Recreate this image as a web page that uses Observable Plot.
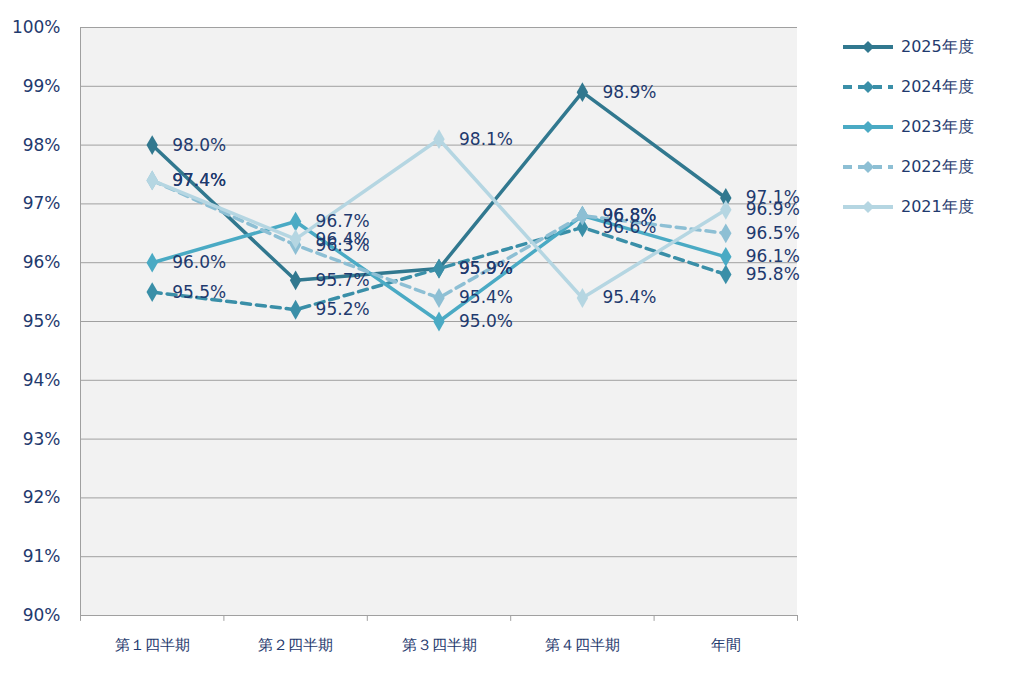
<!DOCTYPE html>
<html><head><meta charset="utf-8">
<script src="https://cdn.jsdelivr.net/npm/d3@7"></script>
<script src="https://cdn.jsdelivr.net/npm/@observablehq/plot@0.6"></script>
<style>
body{margin:0;background:#fff;font-family:"DejaVu Sans",Verdana,sans-serif;}
#wrap{position:relative;width:1024px;height:681px;}
#legend{position:absolute;left:843px;top:27px;}
.li{display:flex;align-items:center;height:40px;font-size:16px;color:#1f3a6e;}
</style></head><body>
<div id="wrap"><div id="chart"></div><div id="legend"></div></div>
<script>
const categories = ["第１四半期","第２四半期","第３四半期","第４四半期","年間"];
const years = ["2025年度","2024年度","2023年度","2022年度","2021年度"];
const v2025 = [98.0,95.7,95.9,98.9,97.1];
const v2024 = [95.5,95.2,95.9,96.6,95.8];
const v2023 = [96.0,96.7,95.0,96.8,96.1];
const v2022 = [97.4,96.3,95.4,96.8,96.5];
const v2021 = [97.4,96.4,98.1,95.4,96.9];
const yTicks = [90,91,92,93,94,95,96,97,98,99,100];
const colors = ["#31788f","#3a8fa8","#4aaac4","#8dbfd4","#b5d6e2"];
const dashed = [false,true,false,true,false];
const series = [v2025,v2024,v2023,v2022,v2021];
const data = series.flatMap((vals,s)=>vals.map((v,i)=>({year:years[s],s,i:i+0.5,cat:categories[i],v})));
const navy = "#1f3a6e";
const marks = [
  Plot.rect([0],{x1:0,x2:5,y1:90,y2:100,fill:"#f2f2f2"}),
  Plot.ruleY(yTicks,{stroke:"#a0a0a0"}),
  Plot.ruleX([0],{y1:90,y2:100,stroke:"#a0a0a0"}),
  Plot.ruleX([0,1,2,3,4,5],{y1:90,y2:89.9,stroke:"#a0a0a0"}),
];
series.forEach((vals,s)=>{
  const d = data.filter(r=>r.s===s);
  marks.push(Plot.line(d,{x:"i",y:"v",stroke:colors[s],strokeWidth:3.5,strokeDasharray:dashed[s]?"9,6":null}));
  marks.push(Plot.dot(d,{x:"i",y:"v",symbol:"diamond",fill:colors[s],r:6}));
});
series.forEach((vals,s)=>{
  const d = data.filter(r=>r.s===s);
  marks.push(Plot.text(d,{x:"i",y:"v",text:r=>r.v.toFixed(1)+"%",dx:20,textAnchor:"start",fill:navy,fontSize:17}));
});
marks.push(Plot.text(categories,{x:(d,i)=>i+0.5,y:()=>90,text:d=>d,dy:30,fill:navy,fontSize:15}));
const chart = Plot.plot({
  width:1024,height:681,
  marginLeft:80,marginRight:227,marginTop:27,marginBottom:66,
  style:{fontFamily:"DejaVu Sans, Verdana, sans-serif",color:navy,background:"#fff"},
  x:{type:"linear",domain:[0,5],axis:null},
  y:{type:"linear",domain:[90,100],ticks:yTicks,tickFormat:d=>d+"%",tickSize:0,tickPadding:20,label:null},
  marks
});
const yax = chart.querySelector("g[aria-label='y-axis tick label']"); if(yax) yax.setAttribute("font-size","17");
document.getElementById("chart").appendChild(chart);
const lg = document.getElementById("legend");
years.forEach((y,s)=>{
  lg.insertAdjacentHTML("beforeend",`<div class="li"><svg width="58" height="14"><line x1="0" y1="7" x2="50" y2="7" stroke="${colors[s]}" stroke-width="4" ${dashed[s]?'stroke-dasharray="9,6"':''}/><path d="M25,1 L31,7 L25,13 L19,7Z" fill="${colors[s]}"/></svg><span>${y}</span></div>`);
});
</script></body></html>
